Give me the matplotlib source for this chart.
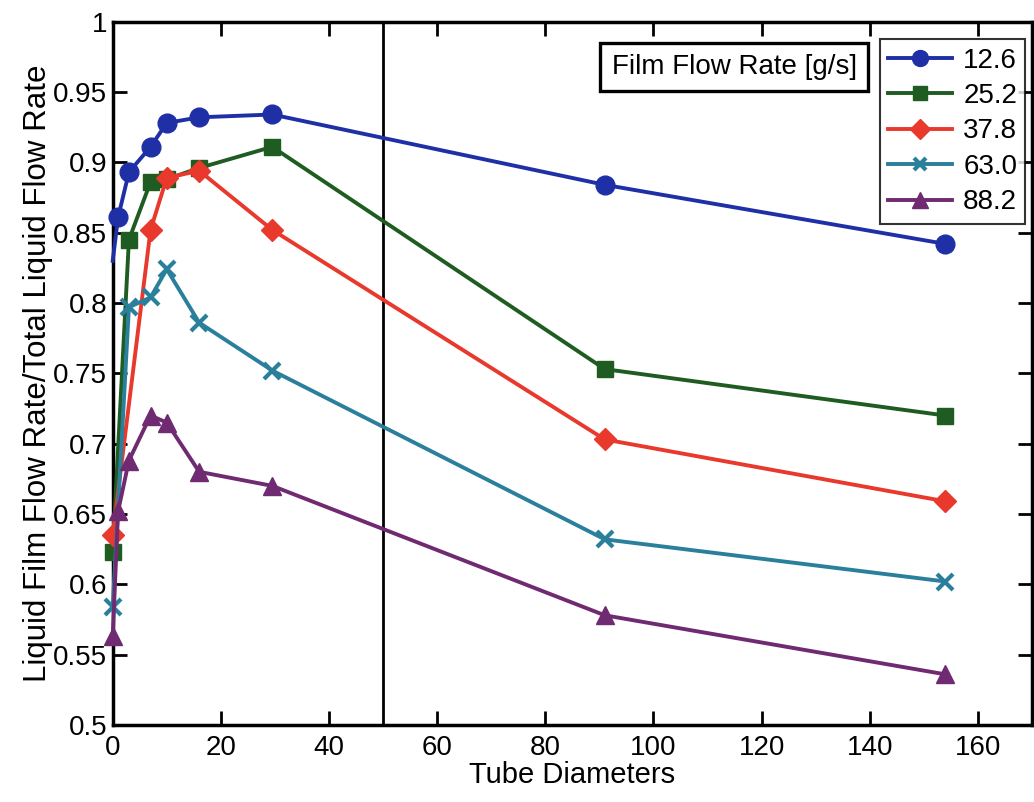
import matplotlib
matplotlib.use("Agg")
import matplotlib.pyplot as plt
from matplotlib.ticker import FuncFormatter, MultipleLocator

plt.rcParams['font.family'] = ['Liberation Sans', 'DejaVu Sans']

# Tube diameter positions for each flow-rate series
x_126 = [0, 1, 3, 7, 10, 16, 29.5, 91, 154]
y_126 = [0.830, 0.861, 0.893, 0.911, 0.928, 0.932, 0.934, 0.884, 0.842]

x_252 = [0, 3, 7, 10, 16, 29.5, 91, 154]
y_252 = [0.623, 0.845, 0.886, 0.888, 0.896, 0.911, 0.753, 0.720]

x_378 = [0, 7, 10, 16, 29.5, 91, 154]
y_378 = [0.635, 0.852, 0.889, 0.894, 0.852, 0.703, 0.659]

x_630 = [0, 3, 7, 10, 16, 29.5, 91, 154]
y_630 = [0.584, 0.797, 0.804, 0.824, 0.786, 0.752, 0.632, 0.602]

x_882 = [0, 1, 3, 7, 10, 16, 29.5, 91, 154]
y_882 = [0.563, 0.652, 0.688, 0.720, 0.715, 0.680, 0.670, 0.578, 0.536]

labels = ['12.6', '25.2', '37.8', '63.0', '88.2']
colors = ['#1f2fa6', '#1f5c22', '#e8392c', '#2a7f9c', '#6f2a72']
markers = ['o', 's', 'D', 'x', '^']
msizes = [13.5, 12, 11.5, 11, 13.5]
# first point of the 12.6 g/s curve is drawn without a symbol
mark_every = [slice(1, None), None, None, None, None]

series = [(x_126, y_126), (x_252, y_252), (x_378, y_378),
          (x_630, y_630), (x_882, y_882)]

fig = plt.figure(figsize=(10.34, 8.02), dpi=100)
ax = fig.add_axes([0.109, 0.096, 0.889, 0.877])

for (xs, ys), lab, c, m, ms, me in zip(series, labels, colors, markers,
                                       msizes, mark_every):
    mew = 3 if m == 'x' else 1
    ax.plot(xs, ys, color=c, lw=2.8, marker=m, markersize=ms, markevery=me,
            markerfacecolor=c, markeredgecolor=c, markeredgewidth=mew,
            label=lab, clip_on=False, zorder=3)

ax.axvline(50, color='black', lw=2, zorder=2)

ax.set_xlim(0, 170)
ax.set_ylim(0.5, 1.0)
ax.xaxis.set_major_locator(MultipleLocator(20))
ax.yaxis.set_major_locator(MultipleLocator(0.05))
ax.yaxis.set_major_formatter(FuncFormatter(lambda v, p: f"{v:.2f}".rstrip('0').rstrip('.')))
ax.tick_params(direction='in', length=10, width=2, top=True, right=True,
               labelsize=20)
ax.tick_params(axis='x', pad=7)
ax.tick_params(axis='y', pad=4)
for s in ax.spines.values():
    s.set_linewidth(2.5)

ax.set_xlabel('Tube Diameters', fontsize=21, labelpad=0)
ax.set_ylabel('Liquid Film Flow Rate/Total Liquid Flow Rate', fontsize=22.5,
              labelpad=0)

leg = ax.legend(loc='upper right', bbox_to_anchor=(0.993, 0.975), fontsize=20,
                frameon=True, fancybox=False, edgecolor='black',
                handlelength=2.3, handletextpad=0.4, borderpad=0.3,
                labelspacing=0.34, borderaxespad=0.0, markerscale=0.85)
leg.get_frame().set_linewidth(1.5)

ax.text(0.676, 0.935, 'Film Flow Rate [g/s]', transform=ax.transAxes,
        fontsize=20, ha='center', va='center',
        bbox=dict(boxstyle='square,pad=0.4', facecolor='white',
                  edgecolor='black', linewidth=2.4))

fig.savefig('out.png', dpi=100)
